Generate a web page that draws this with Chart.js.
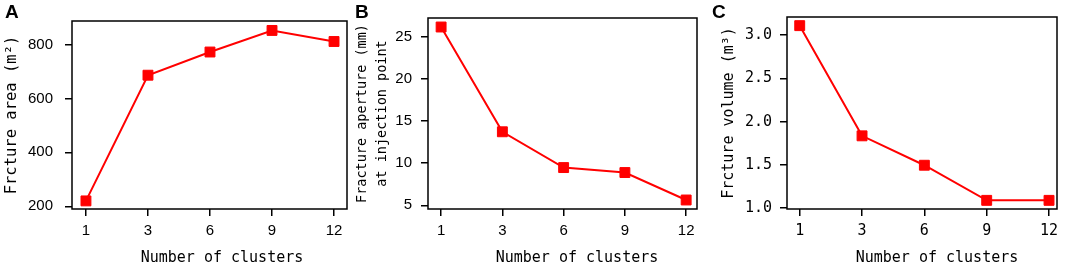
<!DOCTYPE html>
<html>
<head>
<meta charset="utf-8">
<script src="https://cdn.jsdelivr.net/npm/chart.js@4"></script>
<style>
  html, body { margin:0; padding:0; background:#fff; }
  body { width:1065px; height:266px; position:relative; overflow:hidden; }
  .panel { position:absolute; top:0; height:266px; }
  .letter { position:absolute; top:3px; font:bold 19px "Liberation Sans", Arial, sans-serif; line-height:18px; color:#000; }
  .xtitle { position:absolute; top:248px; font:15px "DejaVu Sans Mono", monospace; line-height:18px; color:#000; transform:translateX(-50%); white-space:nowrap; }
</style>
</head>
<body>
<div class="panel" style="left:0;width:355px"><canvas id="cA" width="355" height="266"></canvas></div>
<div class="panel" style="left:350px;width:355px"><canvas id="cB" width="355" height="266"></canvas></div>
<div class="panel" style="left:705px;width:360px"><canvas id="cC" width="360" height="266"></canvas></div>
<div class="letter" style="left:5px">A</div>
<div class="letter" style="left:355px">B</div>
<div class="letter" style="left:712px">C</div>
<div class="xtitle" style="left:222px">Number of clusters</div>
<div class="xtitle" style="left:577px">Number of clusters</div>
<div class="xtitle" style="left:937px">Number of clusters</div>
<script>
// ---- data ----
const clusters = ["1", "3", "6", "9", "12"];
const fractureArea = [220, 686, 772, 852, 811];
const fractureAperture = [26.17, 13.73, 9.48, 8.89, 5.63];
const fractureVolume = [3.11, 1.836, 1.496, 1.09, 1.09];
const areaTicks = [200, 400, 600, 800];
const apertureTicks = [5, 10, 15, 20, 25];
const volumeTicks = [1.0, 1.5, 2.0, 2.5, 3.0];

const monoFont = "'DejaVu Sans Mono', monospace";
const sansFont = "'Liberation Sans', Arial, sans-serif";

const framePlugin = {
  id: 'frame',
  afterDraw(chart) {
    const a = chart.chartArea, ctx = chart.ctx;
    ctx.save();
    ctx.strokeStyle = '#000';
    ctx.lineWidth = 1.5;
    ctx.strokeRect(a.left, a.top, a.right - a.left, a.bottom - a.top);
    ctx.restore();
  }
};

function makeChart(id, cfg) {
  const pts = cfg.values.map((v, i) => ({ x: i, y: v }));
  return new Chart(document.getElementById(id), {
    type: 'line',
    data: { datasets: [{
      data: pts,
      borderColor: '#ff0000',
      backgroundColor: '#ff0000',
      borderWidth: 2,
      pointStyle: 'rect',
      pointRadius: 7,
      pointBorderWidth: 1,
      pointBackgroundColor: '#ff0000',
      pointBorderColor: '#ff0000',
      tension: 0
    }]},
    options: {
      responsive: false,
      animation: false,
      devicePixelRatio: 1,
      layout: { padding: { top: 3, right: cfg.padRight, left: 0, bottom: 0 } },
      plugins: { legend: { display: false }, tooltip: { enabled: false } },
      scales: {
        x: {
          type: 'linear',
          min: cfg.xmin, max: cfg.xmax,
          afterBuildTicks: s => { s.ticks = clusters.map((_, i) => ({ value: i })); },
          afterFit: s => { s.height = 57; },
          ticks: {
            callback: v => clusters[v],
            color: '#000',
            font: { family: cfg.tickFont, size: 15 },
            padding: 6,
            maxRotation: 0,
            autoSkip: false
          },
          grid: { drawOnChartArea: false, drawTicks: true, tickLength: 7, color: '#000', lineWidth: 1.5 },
          border: { display: false }
        },
        y: {
          type: 'linear',
          min: cfg.ymin, max: cfg.ymax,
          afterBuildTicks: s => { s.ticks = cfg.ticks.map(v => ({ value: v })); },
          afterFit: s => { s.width = cfg.yWidth; },
          ticks: {
            callback: cfg.fmt,
            color: '#000',
            font: { family: cfg.tickFont, size: 15 },
            padding: cfg.tickPad
          },
          grid: { drawOnChartArea: false, drawTicks: true, tickLength: 7, color: '#000', lineWidth: 1.5 },
          border: { display: false },
          title: {
            display: true,
            text: cfg.title,
            color: '#000',
            font: { family: monoFont, size: cfg.titleSize, lineHeight: cfg.titleLH },
            padding: { top: cfg.titlePad, bottom: 0 }
          }
        }
      }
    },
    plugins: [framePlugin]
  });
}

makeChart('cA', {
  values: fractureArea, ticks: areaTicks, ymin: 190, ymax: 887,
  xmin: -0.225, xmax: 4.209, padRight: 7, yWidth: 72, tickPad: 12,
  tickFont: sansFont, fmt: v => String(v),
  title: 'Frcture area (m²)', titleSize: 15.5, titleLH: 1.2, titlePad: 3
});
makeChart('cB', {
  values: fractureAperture, ticks: apertureTicks, ymin: 4.56, ymax: 27.24,
  xmin: -0.214, xmax: 4.177, padRight: 3, yWidth: 78, tickPad: 9,
  tickFont: sansFont, fmt: v => String(v),
  title: ['Fracture aperture (mm)', 'at injection point'], titleSize: 13.5, titleLH: 1.48, titlePad: 3
});
makeChart('cC', {
  values: fractureVolume, ticks: volumeTicks, ymin: 0.99, ymax: 3.21,
  xmin: -0.204, xmax: 4.128, padRight: 8, yWidth: 82, tickPad: 8,
  tickFont: monoFont, fmt: v => v.toFixed(1),
  title: 'Frcture volume (m³)', titleSize: 15, titleLH: 1.2, titlePad: 15
});
</script>
</body>
</html>
